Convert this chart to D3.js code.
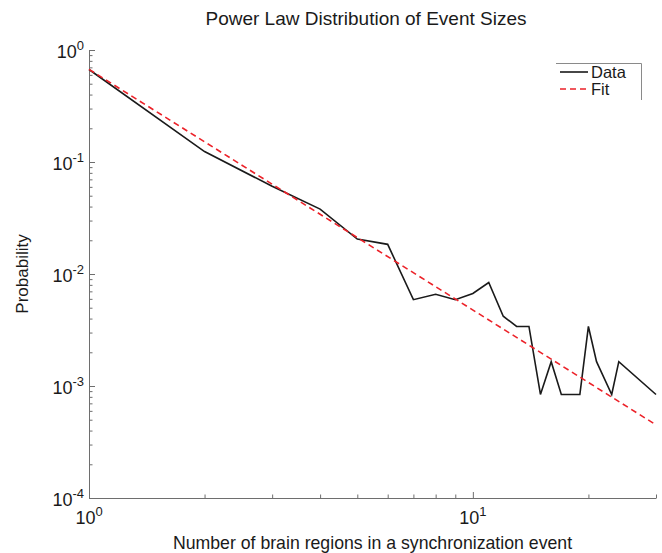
<!DOCTYPE html>
<html>
<head>
<meta charset="utf-8">
<script src="https://cdn.jsdelivr.net/npm/d3@7"></script>
<style>
    body { margin: 0; background: #fff; }
    text { font-family: "Liberation Sans", Arial, Helvetica, sans-serif; fill: #1a1a1a; }
</style>
</head>
<body>
<div id="chart"></div>
<script>
// event size (number of brain regions) and probability
const sizes = [1, 2, 3, 4, 5, 6, 7, 8, 9, 10, 11, 12, 13, 14, 15, 16, 17, 18, 19, 20, 21, 23, 24, 30];
const probs = [0.67, 0.124, 0.0607, 0.038, 0.0205, 0.0184, 0.0059, 0.0066, 0.0059, 0.0067, 0.0084, 0.0042,
    0.0034, 0.0034, 0.00084, 0.00165, 0.00084, 0.00084, 0.00084, 0.0034, 0.00165, 0.00084, 0.00165, 0.00084];

// power law fit (straight line in log-log), end points
const fitSizes = [1, 30];
const fitProbs = [0.672, 0.00045];

const xMajorTicks = [1, 10];
const yMajorTicks = [1e-4, 1e-3, 1e-2, 1e-1, 1];
const legendLabels = ["Data", "Fit"];

document.addEventListener("DOMContentLoaded", function () {
    const margin = { top: 50, right: 6, bottom: 55, left: 89 },
        width = 567,
        height = 448;

    const svg = d3.select("#chart")
        .append("svg")
        .attr("width", 662)
        .attr("height", 553);

    const chart = svg.append("g")
        .attr("transform", `translate(${margin.left},${margin.top})`);

    const x = d3.scaleLog().domain([1, 30]).range([0, width]);
    const y = d3.scaleLog().domain([1e-4, 1]).range([height, 0]);

    const axisColor = "#6e6e6e";

    // minor ticks (inward)
    const xMinor = x.ticks().filter(d => !xMajorTicks.includes(d));
    const yMinor = y.ticks().filter(d => !yMajorTicks.some(m => Math.abs(m - d) / m < 1e-9));

    const xAxisG = chart.append("g").attr("transform", `translate(0,${height})`);
    xAxisG.call(d3.axisBottom(x).tickValues(xMinor).tickSizeInner(-3.5).tickSizeOuter(0).tickFormat(""));
    xAxisG.append("g").attr("class", "major")
        .call(d3.axisBottom(x).tickValues(xMajorTicks).tickSizeInner(-6).tickSizeOuter(0).tickFormat(""));

    const yAxisG = chart.append("g");
    yAxisG.call(d3.axisLeft(y).tickValues(yMinor).tickSizeInner(-3.5).tickSizeOuter(0).tickFormat(""));
    yAxisG.append("g").attr("class", "major")
        .call(d3.axisLeft(y).tickValues(yMajorTicks).tickSizeInner(-6).tickSizeOuter(0).tickFormat(""));

    chart.selectAll(".major .domain").remove();
    chart.selectAll(".domain, .tick line").attr("stroke", axisColor).attr("stroke-width", 1);

    // tick labels 10^n
    function powLabel(sel, v) {
        const e = Math.round(Math.log10(v));
        sel.append("tspan").text("10");
        sel.append("tspan").attr("dy", -8).style("font-size", "13px").text(e);
    }

    xMajorTicks.forEach(v => {
        const t = chart.append("text")
            .attr("x", x(v))
            .attr("y", height + 26)
            .attr("text-anchor", "middle")
            .style("font-size", "18px");
        powLabel(t, v);
    });

    yMajorTicks.forEach(v => {
        const t = chart.append("text")
            .attr("x", -5)
            .attr("y", y(v) + 8)
            .attr("text-anchor", "end")
            .style("font-size", "18px");
        powLabel(t, v);
    });

    const line = d3.line()
        .x(d => x(d[0]))
        .y(d => y(d[1]));

    chart.append("path")
        .datum(sizes.map((s, i) => [s, probs[i]]))
        .attr("fill", "none")
        .attr("stroke", "#1a1a1a")
        .attr("stroke-width", 1.6)
        .attr("stroke-linejoin", "miter")
        .attr("d", line);

    chart.append("path")
        .datum(fitSizes.map((s, i) => [s, fitProbs[i]]))
        .attr("fill", "none")
        .attr("stroke", "#ec2229")
        .attr("stroke-width", 1.6)
        .attr("stroke-dasharray", "6,4")
        .attr("d", line);

    // title and axis labels
    svg.append("text")
        .attr("x", 366)
        .attr("y", 25)
        .attr("text-anchor", "middle")
        .style("font-size", "19px")
        .text("Power Law Distribution of Event Sizes");

    svg.append("text")
        .attr("x", margin.left + width / 2)
        .attr("y", 549)
        .attr("text-anchor", "middle")
        .style("font-size", "17.7px")
        .text("Number of brain regions in a synchronization event");

    svg.append("text")
        .attr("transform", `translate(28,${margin.top + height / 2}) rotate(-90)`)
        .attr("text-anchor", "middle")
        .style("font-size", "17px")
        .text("Probability");

    // legend (only top and right edge of the box are visible)
    const legend = svg.append("g");
    legend.append("path")
        .attr("d", "M556,63.5H641.5V100")
        .attr("fill", "none")
        .attr("stroke", "#8a8a8a")
        .attr("stroke-width", 1);

    const styles = [
        { stroke: "#1a1a1a", dash: null },
        { stroke: "#ec2229", dash: "6,4" }
    ];
    legendLabels.forEach((lbl, i) => {
        const ly = 72 + i * 17;
        legend.append("line")
            .attr("x1", 560).attr("x2", 588)
            .attr("y1", ly).attr("y2", ly)
            .attr("stroke", styles[i].stroke)
            .attr("stroke-width", 1.6)
            .attr("stroke-dasharray", styles[i].dash);
        legend.append("text")
            .attr("x", 591)
            .attr("y", ly + 6)
            .style("font-size", "16.5px")
            .text(lbl);
    });
});
</script>
</body>
</html>
